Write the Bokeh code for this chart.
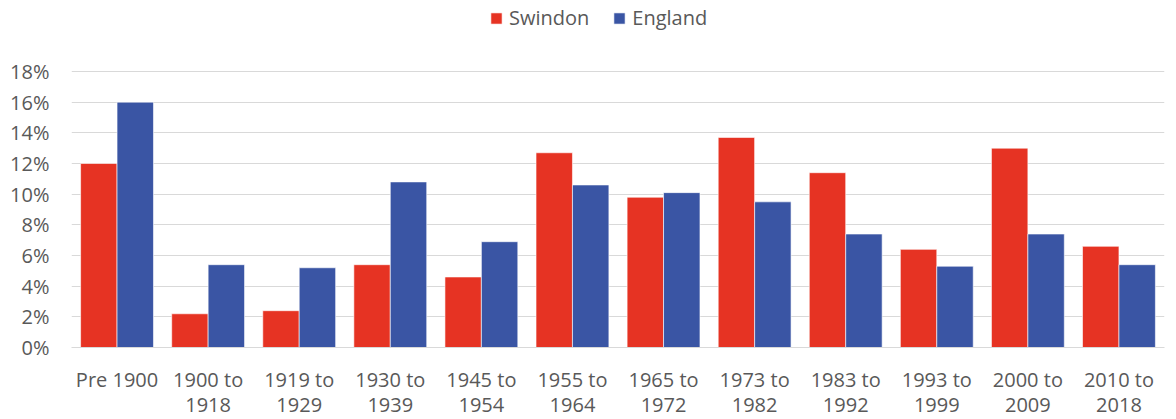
from bokeh.plotting import figure
from bokeh.models import ColumnDataSource, FixedTicker, Legend, LegendItem, Range1d
from bokeh.transform import dodge
from bokeh.embed import file_html
from bokeh.resources import INLINE

categories = ["Pre 1900", "1900 to\n1918", "1919 to\n1929", "1930 to\n1939", "1945 to\n1954",
              "1955 to\n1964", "1965 to\n1972", "1973 to\n1982", "1983 to\n1992", "1993 to\n1999",
              "2000 to\n2009", "2010 to\n2018"]
swindon = [12.0, 2.2, 2.4, 5.4, 4.6, 12.7, 9.8, 13.7, 11.4, 6.4, 13.0, 6.6]
england = [16.0, 5.4, 5.2, 10.8, 6.9, 10.6, 10.1, 9.5, 7.4, 5.3, 7.4, 5.4]
y_ticks = [0, 2, 4, 6, 8, 10, 12, 14, 16, 18]

RED = "#E63323"
BLUE = "#3A55A4"
GRID = "#D9D9D9"
TXT = "#595959"

idx = list(range(len(categories)))
src = ColumnDataSource(dict(x=idx, swindon=swindon, england=england))

p = figure(frame_width=1093, frame_height=347, output_backend="svg", toolbar_location=None,
           x_range=Range1d(-0.5, len(categories) - 0.5), y_range=Range1d(0, 22.63),
           min_border_left=71, min_border_right=3, min_border_top=0, min_border_bottom=0)
p.outline_line_color = None
p.background_fill_color = "white"
p.border_fill_color = "white"

r1 = p.vbar(x=dodge("x", -0.2, range=p.x_range), top="swindon", width=0.4, source=src,
            fill_color=RED, line_color="white", line_width=0.6)
r2 = p.vbar(x=dodge("x", 0.2, range=p.x_range), top="england", width=0.4, source=src,
            fill_color=BLUE, line_color="white", line_width=0.6)

p.xgrid.grid_line_color = None
p.ygrid.grid_line_color = GRID
p.ygrid.grid_line_width = 1
p.ygrid.ticker = FixedTicker(ticks=y_ticks)

p.yaxis.ticker = FixedTicker(ticks=y_ticks)
p.yaxis.major_label_overrides = {t: f"{t}%" for t in y_ticks}
p.yaxis.axis_line_color = None
p.yaxis.major_tick_line_color = None
p.yaxis.minor_tick_line_color = None
p.yaxis.major_label_standoff = 16
p.yaxis.major_label_text_font = "Open Sans"
p.yaxis.major_label_text_font_size = "20px"
p.yaxis.major_label_text_color = TXT

p.xaxis.ticker = FixedTicker(ticks=idx)
p.xaxis.major_label_overrides = {i: c for i, c in zip(idx, categories)}
p.xaxis.axis_line_color = GRID
p.xaxis.axis_line_width = 1
p.xaxis.major_tick_line_color = None
p.xaxis.minor_tick_line_color = None
p.xaxis.major_label_standoff = 12
p.xaxis.major_label_text_font = "Open Sans"
p.xaxis.major_label_text_font_size = "20px"
p.xaxis.major_label_text_line_height = 0.95
p.xaxis.major_label_text_color = TXT

legend = Legend(items=[LegendItem(label="Swindon", renderers=[r1]),
                       LegendItem(label="England", renderers=[r2])],
                orientation="horizontal", location=(418, 316),
                glyph_width=14, glyph_height=14, label_standoff=6, spacing=23,
                padding=0, margin=0, border_line_color=None, background_fill_alpha=0,
                label_text_font="Open Sans", label_text_font_size="20px",
                label_text_color=TXT)
p.add_layout(legend)

open("out.html", "w").write(file_html(p, INLINE))
